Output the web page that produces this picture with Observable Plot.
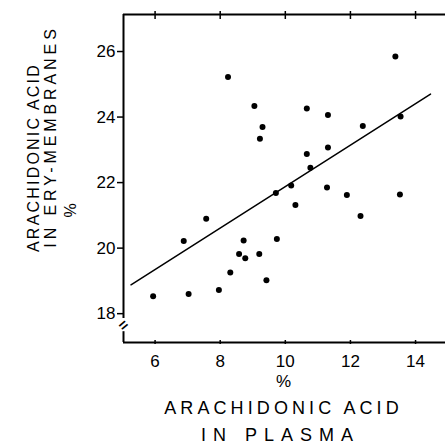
<!DOCTYPE html>
<html><head><meta charset="utf-8">
<script src="https://cdn.jsdelivr.net/npm/d3@7"></script>
<script src="https://cdn.jsdelivr.net/npm/@observablehq/plot@0.6"></script>
<style>
body{margin:0;background:#fff;}
svg{font-family:"Liberation Sans",Arial,sans-serif;}
</style></head><body><div id="chart"></div>
<script>
// Arachidonic acid in plasma (%) vs in erythrocyte membranes (%)
const plasma    = [8.24, 13.38, 9.05, 10.66, 11.31, 9.30, 9.22, 12.38, 13.54, 10.66, 11.31,
                   10.77, 9.71, 10.18, 10.31, 11.28, 11.89, 13.52, 12.31, 7.57, 6.88,
                   8.72, 9.74, 8.58, 8.77, 9.20, 8.31, 9.42, 5.94, 7.03, 7.96];
const membranes = [25.22, 25.85, 24.34, 24.26, 24.06, 23.70, 23.34, 23.73, 24.02, 22.87, 23.07,
                   22.45, 21.68, 21.91, 21.32, 21.85, 21.62, 21.64, 20.98, 20.90, 20.22,
                   20.23, 20.28, 19.82, 19.69, 19.82, 19.26, 19.02, 18.53, 18.60, 18.72];
// regression line end points
const fitX = [5.26, 14.46];
const fitY = [18.88, 24.70];
const xTicks = [6, 8, 10, 12, 14];
const yTicks = [18, 20, 22, 24, 26];
const xDomain = [5.03, 14.92];
const yDomain = [17.12, 27.13];
const yBreak = [17.45, 17.85];
const xTitle = ["%", "ARACHIDONIC ACID", "IN PLASMA"];
const yTitle = ["ARACHIDONIC ACID", "IN ERY-MEMBRANES", "%"];

const points = plasma.map((x, i) => ({x, y: membranes[i]}));
const fit = fitX.map((x, i) => ({x, y: fitY[i]}));

const chart = Plot.plot({
  width: 445,
  height: 445,
  marginLeft: 123,
  marginRight: 0,
  marginTop: 14,
  marginBottom: 103,
  x: {domain: xDomain},
  y: {domain: yDomain},
  style: {fontFamily: "'Liberation Sans', Arial, sans-serif", color: "#000", background: "#fff"},
  marks: [
    // frame lines
    Plot.ruleY([yDomain[0]], {strokeWidth: 2}),
    Plot.ruleY([yDomain[1]], {strokeWidth: 2}),
    Plot.ruleX([xDomain[0]], {y1: yDomain[0], y2: yBreak[0], strokeWidth: 2}),
    Plot.ruleX([xDomain[0]], {y1: yBreak[1], y2: yDomain[1], strokeWidth: 2}),
    Plot.text([0], {x: xDomain[0], y: (yBreak[0] + yBreak[1]) / 2, text: () => "=", rotate: -40, fontSize: 15, fontWeight: "bold"}),
    // axes
    Plot.axisX({ticks: xTicks, tickSize: 4, dy: -2, tickPadding: 10, fontSize: 17, label: null, strokeWidth: 1.5}),
    Plot.axisX({anchor: "top", ticks: xTicks, tickSize: 8, dy: 4, tickFormat: () => "", label: null, strokeWidth: 1.5}),
    Plot.axisY({ticks: yTicks, tickSize: 6, tickPadding: 2, fontSize: 17, label: null, strokeWidth: 1.5}),
    // titles
    Plot.text([xTitle[0]], {frameAnchor: "bottom", text: d => d, dx: -1, dy: 39, fontSize: 17, lineAnchor: "middle"}),
    Plot.text([xTitle[1]], {frameAnchor: "bottom", text: d => d, dx: -1, dy: 66, fontSize: 18, lineAnchor: "middle"}),
    Plot.text([xTitle[2]], {frameAnchor: "bottom", text: d => d, dx: -4, dy: 93, fontSize: 18, lineAnchor: "middle"}),
    Plot.text([yTitle[0]], {frameAnchor: "left", text: d => d, rotate: -90, textAnchor: "middle", dx: -90, dy: -21, fontSize: 16, lineAnchor: "middle"}),
    Plot.text([yTitle[1]], {frameAnchor: "left", text: d => d, rotate: -90, textAnchor: "middle", dx: -73, dy: -42, fontSize: 16, lineAnchor: "middle"}),
    Plot.text([yTitle[2]], {frameAnchor: "left", text: d => d, rotate: -90, textAnchor: "middle", dx: -53, dy: 32, fontSize: 16, lineAnchor: "middle"}),
    // data
    Plot.line(fit, {x: "x", y: "y", strokeWidth: 1.5}),
    Plot.dot(points, {x: "x", y: "y", r: 3, fill: "#000", stroke: "none"})
  ]
});
document.getElementById("chart").appendChild(chart);

d3.select(chart).selectAll("text").each(function () {
  const t = this.textContent;
  if (t === "IN PLASMA") this.style.letterSpacing = "7px";
  if (t === "IN ERY-MEMBRANES") this.style.letterSpacing = "3.9px";
  if (t === "ARACHIDONIC ACID") {
    const rotated = (this.getAttribute("transform") || "").includes("rotate") ||
      (this.parentNode.getAttribute("transform") || "").includes("rotate");
    this.style.letterSpacing = rotated ? "2.2px" : "4.1px";
  }
});
</script></body></html>
